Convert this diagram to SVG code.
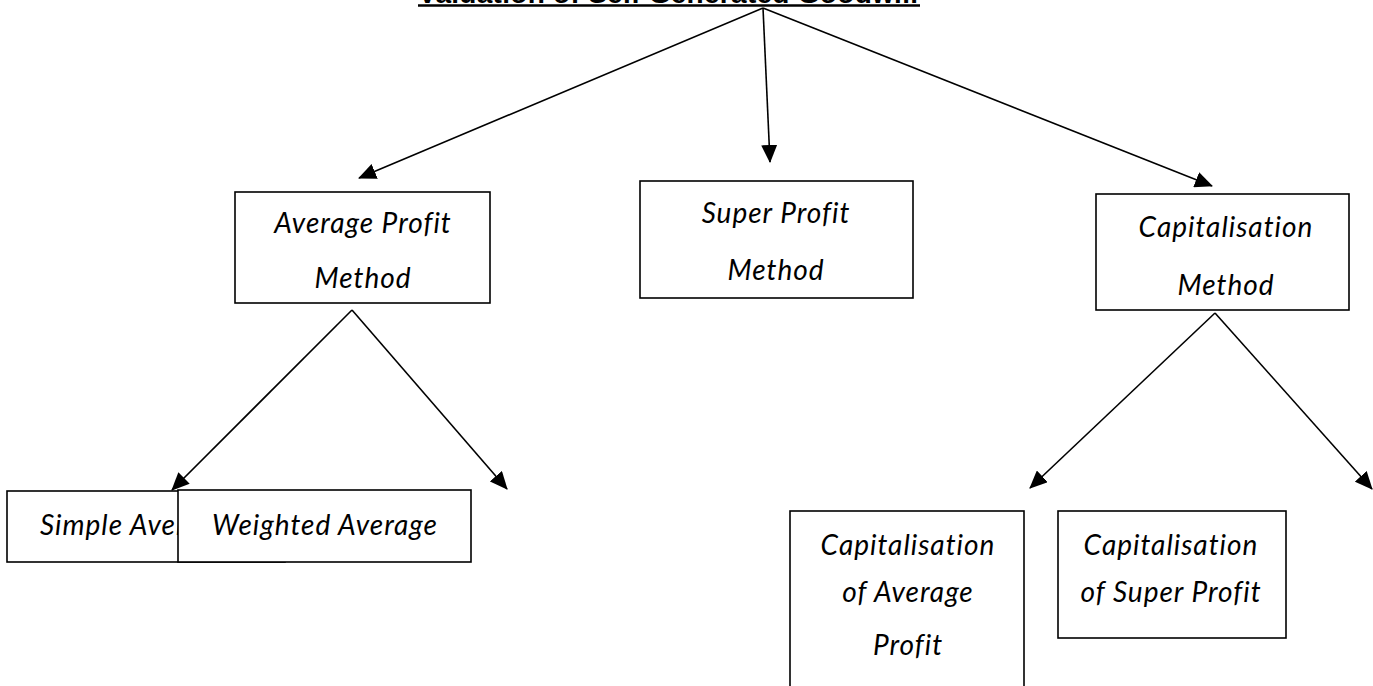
<svg xmlns="http://www.w3.org/2000/svg" width="1373" height="686" viewBox="0 0 1373 686">
<defs>
<marker id="ah" markerUnits="userSpaceOnUse" markerWidth="18" markerHeight="16" viewBox="0 0 18 16" refX="17" refY="8" orient="auto">
<path d="M0,0 L18,8 L0,16 Z" fill="#000"/>
</marker>
<style>
.box{fill:#fff;stroke:#000;stroke-width:1.6}
.lbl{font-family:Lato,"Open Sans",sans-serif;font-style:italic;font-weight:400;font-size:28px;letter-spacing:1px;fill:#000;text-anchor:middle}
.con{stroke:#000;stroke-width:1.6;fill:none;marker-end:url(#ah)}
.title{font-family:"Liberation Sans",Arial,sans-serif;font-weight:bold;font-size:28px;fill:#000}
</style>
</defs>
<rect width="1373" height="686" fill="#fff"/>
<g id="title">
<text class="title" x="418" y="3" textLength="500">Valuation of Self Generated Goodwill</text>
<line x1="418" y1="5.5" x2="920" y2="5.5" stroke="#000" stroke-width="2.5"/>
</g>
<g id="connectors">
<line class="con" x1="763" y1="8" x2="359" y2="178"/>
<line class="con" x1="763" y1="8" x2="770" y2="162"/>
<line class="con" x1="763" y1="8" x2="1212" y2="186"/>
<line class="con" x1="352" y1="310" x2="172" y2="490"/>
<line class="con" x1="352" y1="310" x2="507" y2="489"/>
<line class="con" x1="1215" y1="313" x2="1030" y2="488"/>
<line class="con" x1="1215" y1="313" x2="1372" y2="489"/>
</g>
<g id="average-profit">
<rect class="box" x="235" y="192" width="255" height="111"/>
<text class="lbl" x="363" y="233">Average Profit</text>
<text class="lbl" x="363" y="288">Method</text>
</g>
<g id="super-profit">
<rect class="box" x="640" y="181" width="273" height="117"/>
<text class="lbl" x="776" y="223">Super Profit</text>
<text class="lbl" x="776" y="280">Method</text>
</g>
<g id="capitalisation">
<rect class="box" x="1096" y="194" width="253" height="116"/>
<text class="lbl" x="1226" y="237">Capitalisation</text>
<text class="lbl" x="1226" y="295">Method</text>
</g>
<g id="simple-average">
<rect class="box" x="7" y="491" width="278" height="71"/>
<text class="lbl" x="40" y="535" style="text-anchor:start">Simple Average</text>
</g>
<g id="weighted-average">
<rect class="box" x="178" y="490" width="293" height="72"/>
<text class="lbl" x="325" y="535">Weighted Average</text>
</g>
<g id="cap-average-profit">
<rect class="box" x="790" y="511" width="234" height="190"/>
<text class="lbl" x="908" y="555">Capitalisation</text>
<text class="lbl" x="908" y="602">of Average</text>
<text class="lbl" x="908" y="655">Profit</text>
</g>
<g id="cap-super-profit">
<rect class="box" x="1058" y="511" width="228" height="127"/>
<text class="lbl" x="1171" y="555">Capitalisation</text>
<text class="lbl" x="1171" y="602">of Super Profit</text>
</g>
</svg>
